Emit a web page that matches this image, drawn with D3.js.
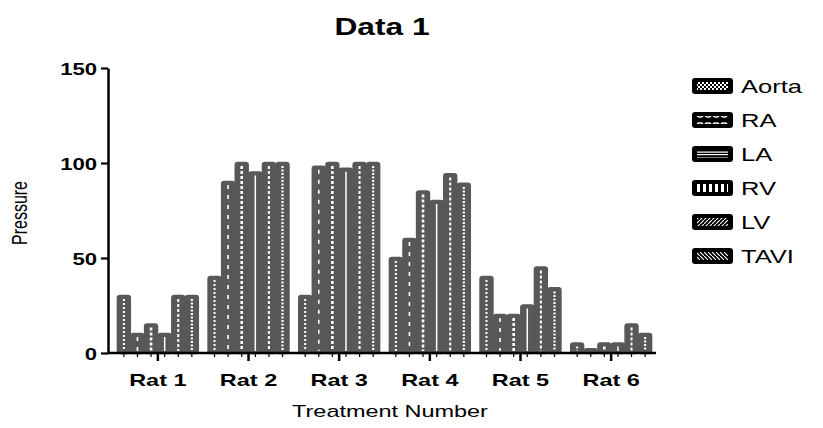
<!DOCTYPE html>
<html><head><meta charset="utf-8">
<script src="https://cdn.jsdelivr.net/npm/d3@7"></script>
<style>
body{margin:0;background:#fff}
text{font-family:"Liberation Sans",Arial,Helvetica,sans-serif;fill:#000}
</style>
</head><body>
<svg id="c" width="823" height="428"></svg>
<script>
const categories = ["Rat 1","Rat 2","Rat 3","Rat 4","Rat 5","Rat 6"];
const seriesNames = ["Aorta","RA","LA","RV","LV","TAVI"];
const aorta = [30,40,30,50,40,5];
const ra    = [10,90,98,60,20,2];
const la    = [15,100,100,85,20,5];
const rv    = [10,95,97,80,25,5];
const lv    = [30,100,100,94,45,15];
const tavi  = [30,100,100,89,34,10];
const yTicks = [0,50,100,150];
const seriesValues = [aorta, ra, la, rv, lv, tavi];

const SX = 1.38; // horizontal stretch of text in the reference
const svg = d3.select("#c");
const BAR = "#585858";

const x0 = d3.scaleBand().domain(categories).range([108,661]).paddingInner(0.1).paddingOuter(0.1);
const x1 = d3.scaleBand().domain(seriesNames).range([0, x0.bandwidth()]);
const y = d3.scaleLinear().domain([0,150]).range([353,68]);

// bar mark styles (white inner marks)
const markStyle = {
  "Aorta": {dash:"2,2", w:2},
  "RA":    {dash:"4,6", w:1.6},
  "LA":    {dash:"3,2", w:2.6},
  "RV":    {dash:null,  w:1.5},
  "LV":    {dash:"3,2", w:2},
  "TAVI":  {dash:"2,1.5", w:2.2}
};

// legend patterns
const defs = svg.append("defs");
function pat(id, w, h, draw){
  const p = defs.append("pattern").attr("id",id).attr("patternUnits","userSpaceOnUse")
    .attr("width",w).attr("height",h);
  p.append("rect").attr("width",w).attr("height",h).attr("fill","#000");
  draw(p);
}
pat("p-Aorta",4,4,p=>{p.append("rect").attr("width",2).attr("height",2).attr("fill","#fff");
  p.append("rect").attr("x",2).attr("y",2).attr("width",2).attr("height",2).attr("fill","#fff");});
pat("p-RA",8,10,p=>{p.append("rect").attr("x",1).attr("y",3).attr("width",6).attr("height",4).attr("rx",2).attr("fill","none").attr("stroke","#fff").attr("stroke-width",1.3);});
pat("p-LA",10,6,p=>{p.append("rect").attr("y",1.5).attr("width",10).attr("height",1.2).attr("fill","#fff");
  p.append("rect").attr("y",4).attr("width",10).attr("height",1.2).attr("fill","#fff");});
pat("p-RV",6,10,p=>{p.append("rect").attr("x",1).attr("width",3).attr("height",10).attr("fill","#fff");});
pat("p-LV",4,4,p=>{p.append("path").attr("d","M-1,5 L5,-1").attr("stroke","#fff").attr("stroke-width",1.1);});
pat("p-TAVI",4,4,p=>{p.append("path").attr("d","M-1,-1 L5,5").attr("stroke","#fff").attr("stroke-width",1.1);});

// bars
const gBars = svg.append("g");
seriesNames.forEach((s,i)=>{
  const vals = seriesValues[i];
  categories.forEach((c,j)=>{
    const v = vals[j];
    const bx = x0(c) + x1(s);
    const bw = x1.bandwidth();
    gBars.append("rect")
      .attr("x", bx+0.9).attr("y", y(v))
      .attr("width", bw-1.8).attr("height", y(0)-y(v))
      .attr("rx", Math.min(2, (y(0)-y(v))/2))
      .attr("fill", BAR).attr("stroke", BAR).attr("stroke-width",2.6)
      .attr("stroke-linejoin","round");
  });
});
seriesNames.forEach((s,i)=>{
  const vals = seriesValues[i];
  const st = markStyle[s];
  categories.forEach((c,j)=>{
    const v = vals[j];
    const cx = x0(c) + x1(s) + x1.bandwidth()/2;
    const y1 = y(v)+3, y2 = y(0)-2;
    if (y2 - y1 < 2) return;
    const l = gBars.append("line").attr("x1",cx).attr("x2",cx).attr("y1",y1).attr("y2",y2)
      .attr("stroke","#fff").attr("stroke-width",st.w);
    if (st.dash) l.attr("stroke-dasharray",st.dash);
  });
});

// minor ticks under each bar
const gMinor = svg.append("g");
categories.forEach(c=>{
  seriesNames.forEach(s=>{
    const cx = x0(c)+x1(s)+x1.bandwidth()/2;
    gMinor.append("line").attr("x1",cx).attr("x2",cx).attr("y1",353).attr("y2",357)
      .attr("stroke","#000").attr("stroke-width",1.2);
  });
});

// y axis
const gy = svg.append("g").attr("transform","translate(108,0)")
  .call(d3.axisLeft(y).tickValues(yTicks).tickSize(7).tickSizeOuter(0).tickPadding(4));
gy.select(".domain").attr("stroke","#000").attr("stroke-width",2.5);
gy.selectAll(".tick line").attr("stroke","#000").attr("stroke-width",2.2);
gy.selectAll(".tick text")
  .attr("x",null).attr("dy",null)
  .attr("transform","translate(-11,6) scale("+SX+",1)")
  .attr("text-anchor","end")
  .style("font-size","16px").style("font-weight","bold").style("font-family","'Liberation Sans',Arial,sans-serif");

// x axis
const gx = svg.append("g").attr("transform","translate(0,353)")
  .call(d3.axisBottom(x0).tickSize(8).tickSizeOuter(0));
gx.select(".domain").attr("d","M108,0H656").attr("stroke","#000").attr("stroke-width",2.5);
gx.selectAll(".tick line").attr("stroke","#000").attr("stroke-width",2.5);
gx.selectAll(".tick text")
  .attr("y",null).attr("dy",null)
  .attr("transform","translate(0,33) scale("+SX+",1)")
  .style("font-size","17px").style("font-weight","bold").style("font-family","'Liberation Sans',Arial,sans-serif");

// titles
svg.append("text").attr("transform","translate(382,35) scale("+SX+",1)")
  .attr("text-anchor","middle").style("font-size","23px").style("font-weight","bold").text("Data 1");
svg.append("text").attr("transform","translate(390,417) scale("+SX+",1)")
  .attr("text-anchor","middle").style("font-size","17px").text("Treatment Number");
svg.append("text").attr("transform","translate(27,213) scale("+SX+",1) rotate(-90)")
  .attr("text-anchor","middle").style("font-size","16px").text("Pressure");

// legend
const gl = svg.append("g");
seriesNames.forEach((s,i)=>{
  const cy = 86 + i*34;
  gl.append("rect").attr("x",692).attr("y",cy-8).attr("width",41).attr("height",16)
    .attr("rx",3).attr("fill","#000");
  gl.append("rect").attr("x",697).attr("y",cy-4).attr("width",31).attr("height",8)
    .attr("fill","url(#p-"+s+")");
  gl.append("text").attr("transform","translate(741,"+(cy+6.5)+") scale("+SX+",1)")
    .style("font-size","18.5px").text(s);
});
</script>
</body></html>
